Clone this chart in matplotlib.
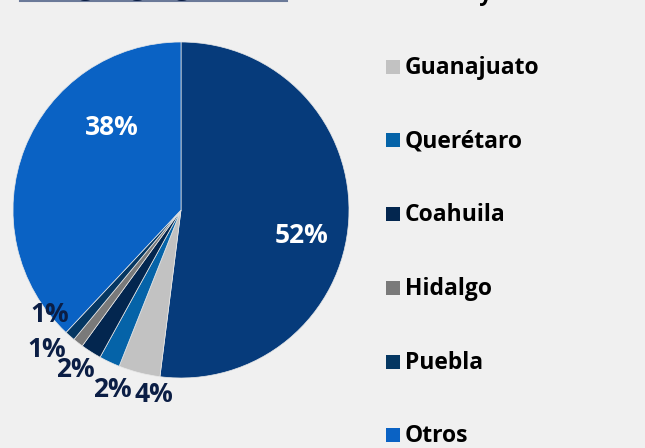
import matplotlib
matplotlib.use('Agg')
import matplotlib.pyplot as plt
from matplotlib.patches import Rectangle

plt.rcParams['font.family'] = ['Open Sans', 'DejaVu Sans']

# data
categories = ['CDMX y área metro', 'Guanajuato', 'Querétaro', 'Coahuila',
              'Hidalgo', 'Puebla', 'Otros']
shares = [52, 4, 2, 2, 1, 1, 38]
colors = ['#063B7B', '#C2C2C2', '#0563A8', '#03264F',
          '#7A7A7A', '#053762', '#0A62C4']

W, H = 645, 448
BG = '#F0F0F0'

fig = plt.figure(figsize=(W / 100, H / 100), dpi=100, facecolor=BG)

# pie centre (181, 210) px, radius 168 px
cx, cy, r = 181, 210, 168
ax = fig.add_axes([(cx - r) / W, (H - cy - r) / H, 2 * r / W, 2 * r / H])
ax.set_facecolor(BG)
wedges, _ = ax.pie(shares, colors=colors, startangle=90, counterclock=False,
                   radius=1, wedgeprops=dict(edgecolor='#E8E8E8', linewidth=0.5))
ax.set_xlim(-1, 1)
ax.set_ylim(-1, 1)
ax.set_aspect('equal')
ax.axis('off')

# label placement (pie data coords)
label_pos = [(0.72, -0.15), (-0.16, -1.10), (-0.41, -1.07), (-0.63, -0.95),
             (-0.80, -0.83), (-0.78, -0.62), (-0.41, 0.49)]
for val, (lx, ly) in zip(shares, label_pos):
    col = 'white' if val > 10 else '#0B1E45'
    ax.text(lx, ly, f'{val}%', ha='center', va='center', fontsize=19,
            fontweight='bold', color=col, clip_on=False)

# legend drawn by hand so the first row sits off the top edge
row0, step = -7, 73.7
for i, (cat, col) in enumerate(zip(categories, colors)):
    yc = row0 + i * step
    fig.patches.append(Rectangle((386 / W, 1 - (yc + 7) / H), 14 / W, 14 / H,
                                 transform=fig.transFigure, facecolor=col,
                                 edgecolor='none'))
    fig.text(405 / W, 1 - (yc + 1) / H, cat, ha='left', va='center',
             fontsize=16.5, fontweight='bold', color='black')

# cut-off heading at top-left
fig.text(40 / W, 1 + 5 / H, 'Origen geográfico', ha='left', va='baseline',
         fontsize=18, fontweight='bold', color='#0B1E45')
fig.add_artist(plt.Line2D([20 / W, 287 / W], [1 - 1 / H, 1 - 1 / H],
                          transform=fig.transFigure, color='#6B7A99', lw=1.5))

fig.savefig('out.png', dpi=100, facecolor=BG)
